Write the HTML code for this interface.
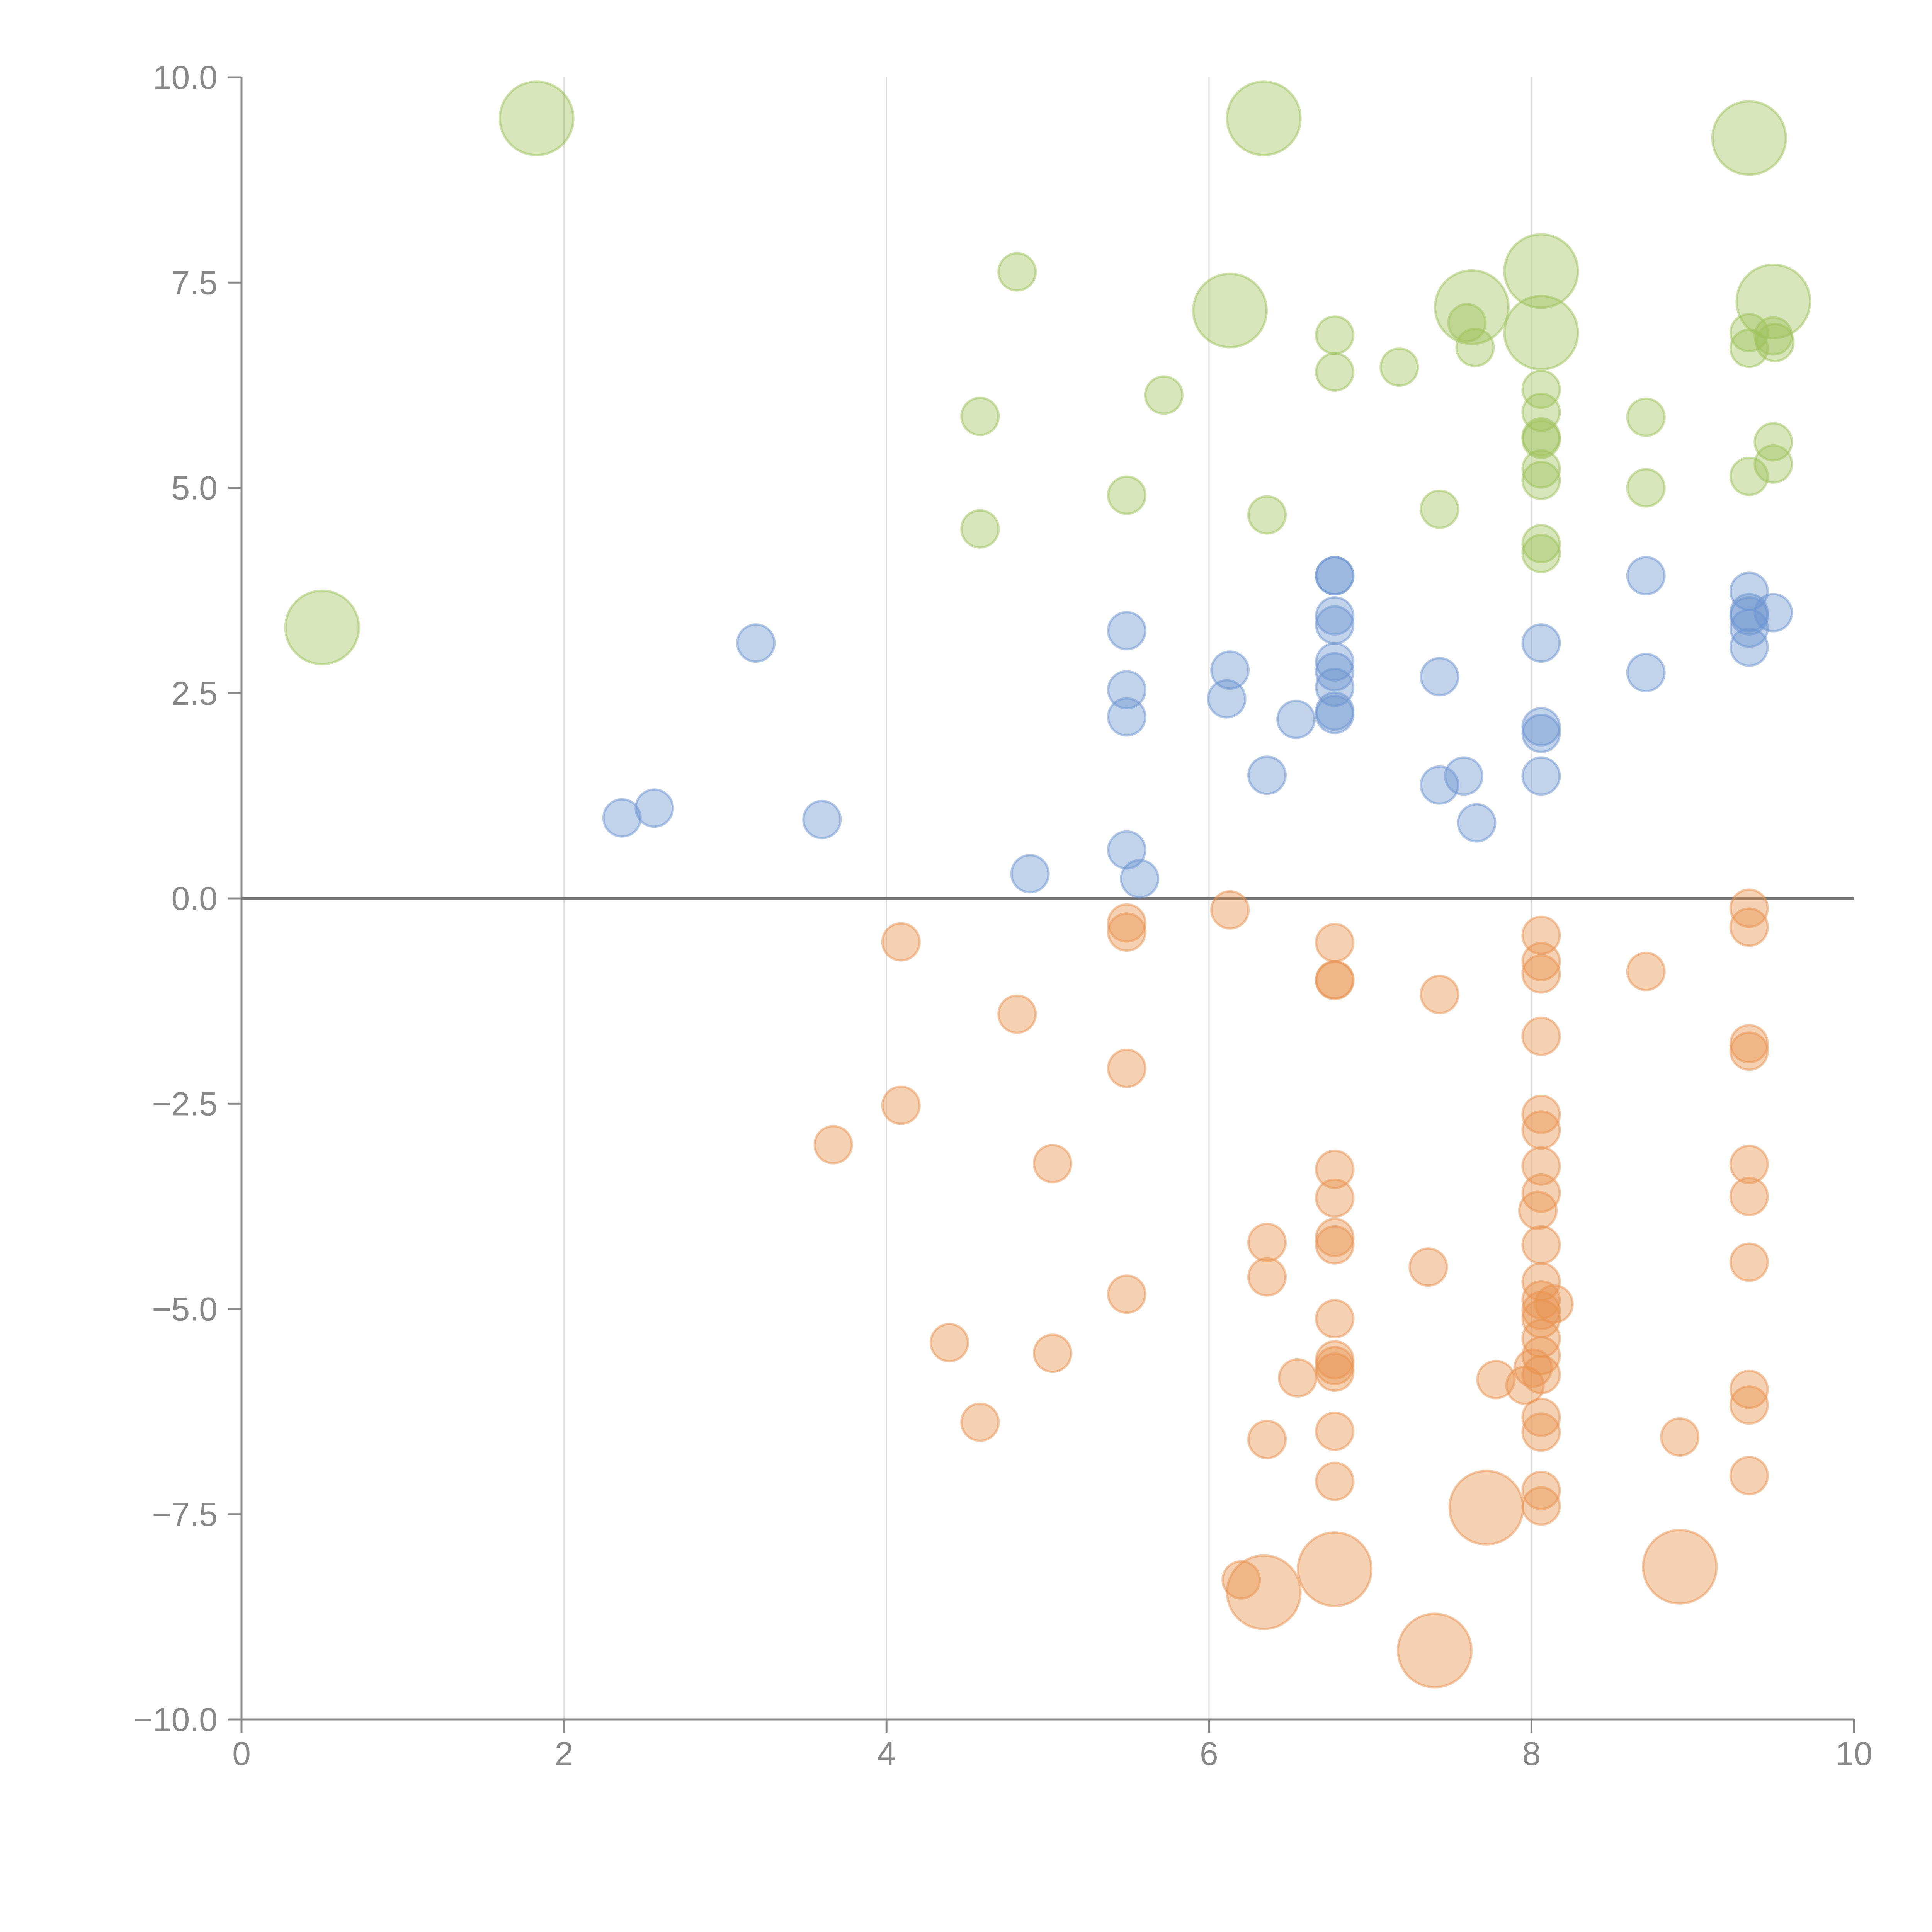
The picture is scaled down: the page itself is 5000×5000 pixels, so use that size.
<!DOCTYPE html>
<html><head><meta charset="utf-8"><style>
html,body{margin:0;padding:0;background:#fff;}
svg{display:block;font-family:"Liberation Sans",Arial,sans-serif;}
</style></head><body>
<svg id="chart" width="5000" height="5000" viewBox="0 0 5000 5000" xmlns="http://www.w3.org/2000/svg">
<g id="grid"></g>
<g id="axes"></g>
<g id="marks"></g>
</svg>
<script>
const xTicks = [0, 2, 4, 6, 8, 10];
const yTicks = [-10, -7.5, -5, -2.5, 0, 2.5, 5, 7.5, 10];
const yTickLabels = ["\u221210.0", "\u22127.5", "\u22125.0", "\u22122.5", "0.0", "2.5", "5.0", "7.5", "10.0"];
const greenX = [1.83,0.5,6.34,9.35,4.81,6.13,7.63,8.06,8.06,9.5,6.78,6.78,7.18,7.6,7.65,5.72,4.58,9.35,9.35,9.5,9.51,8.06,8.06,8.06,8.06,8.71,9.5,9.5,9.35,8.06,8.06,8.71,5.49,6.36,7.43,4.58,8.06,8.06];
const greenY = [9.5,3.3,9.5,9.26,7.63,7.16,7.2,7.64,6.89,7.27,6.86,6.41,6.47,7.01,6.71,6.13,5.87,6.89,6.7,6.85,6.77,6.2,5.92,5.62,5.59,5.86,5.56,5.29,5.14,5.23,5.09,5.0,4.91,4.67,4.74,4.5,4.32,4.2];
const greenSize = [2,2,2,2,1,2,2,2,2,2,1,1,1,1,1,1,1,1,1,1,1,1,1,1,1,1,1,1,1,1,1,1,1,1,1,1,1,1];
const blueX = [6.78,6.78,8.71,9.35,9.35,9.35,9.5,9.35,9.35,6.78,6.78,5.49,3.19,8.06,6.78,6.78,6.78,6.13,6.11,7.43,8.71,5.49,5.49,6.54,6.78,6.78,8.06,8.06,6.36,7.43,7.58,8.06,7.66,2.56,2.36,3.6,5.49,4.89,5.57];
const blueY = [3.93,3.93,3.93,3.74,3.48,3.44,3.48,3.29,3.06,3.44,3.33,3.26,3.11,3.11,2.88,2.76,2.57,2.78,2.43,2.7,2.75,2.54,2.21,2.18,2.28,2.24,2.09,2.01,1.5,1.38,1.49,1.49,0.92,1.1,0.98,0.96,0.59,0.3,0.24];
const orangeX = [6.13,9.35,9.35,5.49,5.49,4.09,6.78,8.06,8.06,8.06,6.78,6.78,7.43,8.71,4.81,8.06,9.35,9.35,5.49,4.09,3.67,8.06,8.06,5.03,8.06,9.35,6.78,6.78,8.06,9.35,8.04,6.36,6.78,6.78,8.06,6.36,7.36,9.35,8.06,5.49,8.06,8.14,8.06,8.06,6.78,4.39,5.03,8.06,8.06,8.06,6.78,6.78,6.78,6.55,7.78,7.96,8.01,9.35,9.35,4.58,8.06,8.06,6.78,8.92,6.36,9.35,6.78,8.06,8.06,7.72,6.78,8.92,6.2,6.34,7.4];
const orangeY = [-0.14,-0.12,-0.35,-0.3,-0.41,-0.53,-0.54,-0.45,-0.77,-0.92,-0.99,-1.0,-1.17,-0.89,-1.41,-1.68,-1.77,-1.86,-2.07,-2.52,-3.0,-2.63,-2.82,-3.23,-3.26,-3.24,-3.3,-3.65,-3.59,-3.63,-3.8,-4.19,-4.13,-4.22,-4.22,-4.61,-4.49,-4.43,-4.67,-4.82,-4.89,-4.94,-5.02,-5.12,-5.12,-5.41,-5.54,-5.36,-5.57,-5.8,-5.62,-5.69,-5.77,-5.84,-5.86,-5.93,-5.72,-5.98,-6.17,-6.38,-6.32,-6.5,-6.49,-6.56,-6.59,-7.03,-7.1,-7.21,-7.4,-7.42,-8.17,-8.14,-8.3,-8.45,-9.16];
const orangeSize = [1,1,1,1,1,1,1,1,1,1,1,1,1,1,1,1,1,1,1,1,1,1,1,1,1,1,1,1,1,1,1,1,1,1,1,1,1,1,1,1,1,1,1,1,1,1,1,1,1,1,1,1,1,1,1,1,1,1,1,1,1,1,1,1,1,1,1,1,1,2,2,2,1,2,2];

const X0 = 625, X1 = 4798, Y0 = 4450, Y1 = 200;
function sx(v){ return X0 + (v - 0) / 10 * (X1 - X0); }
function sy(v){ return Y0 - (v + 10) / 20 * (Y0 - Y1); }
function rad(s){ return s === 2 ? 95 : 48; }
const NS = "http://www.w3.org/2000/svg";
function mk(tag, attrs, parent){ const e = document.createElementNS(NS, tag); for (const k in attrs) e.setAttribute(k, attrs[k]); parent.appendChild(e); return e; }

const grid = document.getElementById('grid');
const axes = document.getElementById('axes');
const marks = document.getElementById('marks');

xTicks.forEach(function(t){
  if (t > 0 && t < 10) {
    const g = mk('line', {x1: sx(t), x2: sx(t), y1: Y1, y2: Y0, stroke: '#dddddd', 'stroke-width': 3}, grid);
    
    
  }
  const tk = mk('line', {x1: sx(t), x2: sx(t), y1: Y0, y2: Y0 + 34, stroke: '#888', 'stroke-width': 5}, axes);
  
  
  const tx = mk('text', {x: sx(t), y: Y0 + 118, 'text-anchor': 'middle', 'font-size': 86, fill: '#888'}, axes);
  tx.textContent = String(t);
  
  
});
yTicks.forEach(function(t, i){
  const tk = mk('line', {x1: X0 - 34, x2: X0, y1: sy(t), y2: sy(t), stroke: '#888', 'stroke-width': 5}, axes);
  
  
  const tx = mk('text', {x: X0 - 62, y: sy(t) + 30, 'text-anchor': 'end', 'font-size': 86, fill: '#888'}, axes);
  tx.textContent = yTickLabels[i];
  
  
});
const ya = mk('line', {x1: X0, x2: X0, y1: Y1, y2: Y0 + 34, stroke: '#888', 'stroke-width': 5}, axes);


const xa = mk('line', {x1: X0 - 34, x2: X1, y1: Y0, y2: Y0, stroke: '#888', 'stroke-width': 5}, axes);


const zl = mk('line', {x1: X0, x2: X1, y1: sy(0), y2: sy(0), stroke: '#777', 'stroke-width': 7}, axes);



function series(xs, ys, sizes, color, name){
  xs.forEach(function(x, i){
    const s = sizes ? sizes[i] : 1;
    const c = mk('circle', {cx: sx(x), cy: sy(ys[i]), r: rad(s), fill: color, 'fill-opacity': 0.42, stroke: color, 'stroke-opacity': 0.5, 'stroke-width': 6}, marks);
    
    
  });
}
series(greenX, greenY, greenSize, '#9dc25a', 'green-bubble');
series(blueX, blueY, null, '#6b93cf', 'blue-bubble');
series(orangeX, orangeY, orangeSize, '#e8914d', 'orange-bubble');
</script>
</body></html>
